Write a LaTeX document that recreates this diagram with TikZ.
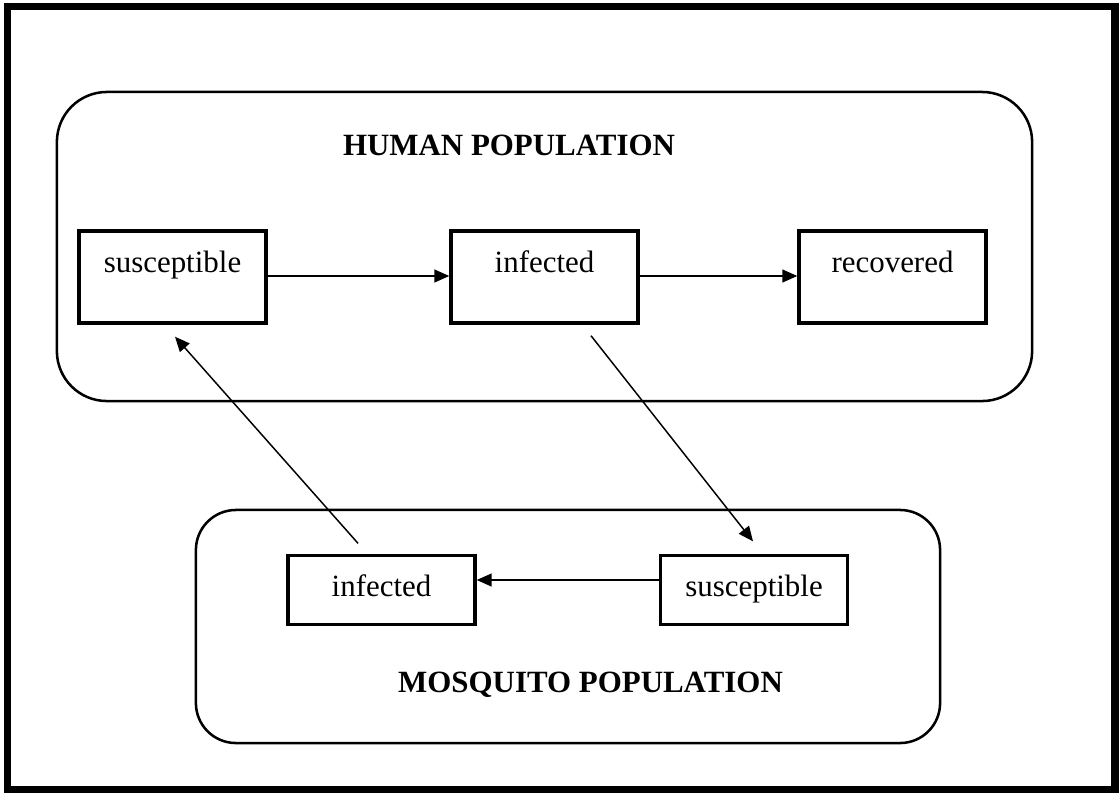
\documentclass[tikz,border=0pt]{standalone}
\usepackage{fontspec}
\setmainfont{Liberation Serif}
\usetikzlibrary{arrows.meta}
\begin{document}
\begin{tikzpicture}[x=0.025cm,y=-0.025cm,
  every node/.style={font=\fontsize{22}{26}\selectfont},
  cbox/.style={draw,line width=2.4pt,rectangle,inner sep=0pt,minimum width=4.675cm},
  hbox/.style={cbox,minimum height=2.3cm},
  mbox/.style={cbox,minimum height=1.725cm},
  popbox/.style={draw,line width=1.8pt,inner sep=0pt},
  lbl/.style={anchor=base,inner sep=0pt},
  title/.style={anchor=base,inner sep=0pt,font=\fontsize{22}{26}\selectfont\bfseries},
  conn/.style={line width=1.05pt,-{Triangle[length=0.37cm,width=0.32cm]}}]
\useasboundingbox (0,0) rectangle (1120,792);
\clip (0,0) rectangle (1120,792);
% outer frame
\draw[line width=5pt] (7.5,6.5) rectangle (1115,790);
% population containers
\node[popbox,rounded corners=1.25cm,minimum width=24.375cm,minimum height=7.725cm] (human) at (544.5,246.5) {};
\node[popbox,rounded corners=1cm,minimum width=18.6cm,minimum height=5.825cm] (mosq) at (568,626.5) {};
\node[title] (htitle) at (509,155) {HUMAN POPULATION};
\node[title] (mtitle) at (590.5,692) {MOSQUITO POPULATION};
% compartments
\node[hbox] (hs) at (172.5,277) {};
\node[hbox] (hi) at (544.5,277) {};
\node[hbox] (hr) at (892.5,277) {};
\node[mbox] (mi) at (381.5,590) {};
\node[mbox] (ms) at (754,590) {};
\node[lbl] (hst) at (172.5,272) {susceptible};
\node[lbl] (hit) at (544.5,272) {infected};
\node[lbl] (hrt) at (892.5,272) {recovered};
\node[lbl] (mit) at (381.5,596) {infected};
\node[lbl] (mst) at (754,596) {susceptible};
% connectors
\draw[conn] ([yshift=0.025cm]hs.east) -- ([yshift=0.025cm]hi.west);
\draw[conn] ([yshift=0.025cm]hi.east) -- ([yshift=0.025cm]hr.west);
\draw[conn] ([yshift=0.25cm]ms.west) -- ([yshift=0.25cm]mi.east);
\coordinate (d1s) at ([shift={(46.5,11)}]hi.south);
\coordinate (d1e) at ([shift={(-1,-12.5)}]ms.north);
\coordinate (d2s) at ([shift={(-23.5,-10.5)}]mi.north);
\coordinate (d2e) at ([shift={(2.5,12)}]hs.south);
\draw[conn] (d1s) -- (d1e);
\draw[conn] (d2s) -- (d2e);
\end{tikzpicture}
\end{document}
